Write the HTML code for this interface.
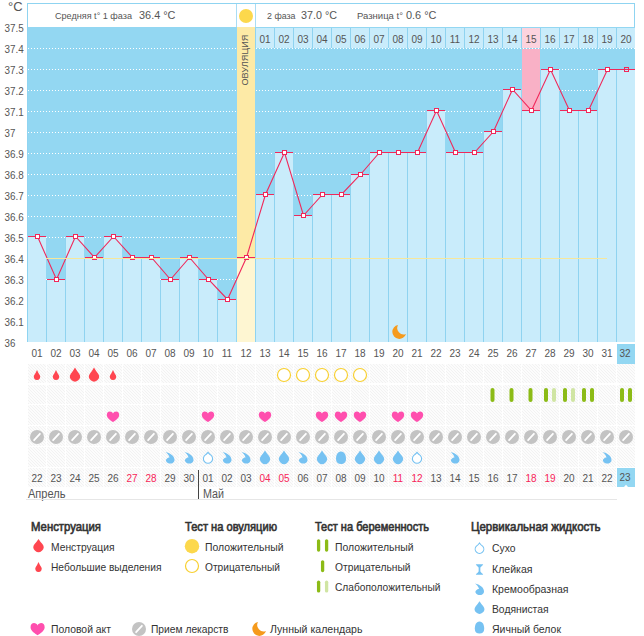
<!DOCTYPE html>
<html><head><meta charset="utf-8"><style>
html,body{margin:0;padding:0;background:#fff;width:644px;height:636px;overflow:hidden}
text{font-family:"Liberation Sans",sans-serif}
</style></head><body>
<svg width="644" height="636" viewBox="0 0 644 636" style="display:block">
<rect x="0" y="0" width="644" height="636" fill="#ffffff"/>
<defs><pattern id="cp" x="0" y="0" width="3" height="3" patternUnits="userSpaceOnUse"><rect x="0" y="0" width="3" height="3" fill="#fcfcfc"/><rect x="0" y="0" width="1" height="1" fill="#f2f2f2"/><rect x="1" y="1" width="1" height="1" fill="#f2f2f2"/><rect x="2" y="2" width="1" height="1" fill="#f2f2f2"/></pattern></defs>
<g shape-rendering="crispEdges">
<rect x="27" y="3" width="608" height="24" fill="#fff"/>
<rect x="27" y="3" width="608" height="1" fill="#8fd4f1"/>
<rect x="27" y="3" width="1" height="24" fill="#8fd4f1"/>
<rect x="634" y="3" width="1" height="24" fill="#8fd4f1"/>
<rect x="236" y="4" width="1" height="23" fill="#a9ddf5"/>
<rect x="255" y="4" width="1" height="23" fill="#a9ddf5"/>
<rect x="27" y="27" width="608" height="315" fill="#93d7f2"/>
<line x1="28" y1="48.5" x2="635" y2="48.5" stroke="#ffffff" stroke-width="1" stroke-dasharray="1 2"/>
<line x1="28" y1="69.5" x2="635" y2="69.5" stroke="#ffffff" stroke-width="1" stroke-dasharray="1 2"/>
<line x1="28" y1="90.5" x2="635" y2="90.5" stroke="#ffffff" stroke-width="1" stroke-dasharray="1 2"/>
<line x1="28" y1="111.5" x2="635" y2="111.5" stroke="#ffffff" stroke-width="1" stroke-dasharray="1 2"/>
<line x1="28" y1="132.5" x2="635" y2="132.5" stroke="#ffffff" stroke-width="1" stroke-dasharray="1 2"/>
<line x1="28" y1="153.5" x2="635" y2="153.5" stroke="#ffffff" stroke-width="1" stroke-dasharray="1 2"/>
<line x1="28" y1="174.5" x2="635" y2="174.5" stroke="#ffffff" stroke-width="1" stroke-dasharray="1 2"/>
<line x1="28" y1="195.5" x2="635" y2="195.5" stroke="#ffffff" stroke-width="1" stroke-dasharray="1 2"/>
<line x1="28" y1="216.5" x2="635" y2="216.5" stroke="#ffffff" stroke-width="1" stroke-dasharray="1 2"/>
<line x1="28" y1="237.5" x2="635" y2="237.5" stroke="#ffffff" stroke-width="1" stroke-dasharray="1 2"/>
<line x1="28" y1="258.5" x2="635" y2="258.5" stroke="#ffffff" stroke-width="1" stroke-dasharray="1 2"/>
<line x1="28" y1="279.5" x2="635" y2="279.5" stroke="#ffffff" stroke-width="1" stroke-dasharray="1 2"/>
<line x1="28" y1="300.5" x2="635" y2="300.5" stroke="#ffffff" stroke-width="1" stroke-dasharray="1 2"/>
<line x1="28" y1="321.5" x2="635" y2="321.5" stroke="#ffffff" stroke-width="1" stroke-dasharray="1 2"/>
<rect x="27" y="237" width="19" height="105" fill="#c9ecfb"/>
<rect x="27" y="237" width="1" height="105" fill="#8fd3f0"/>
<rect x="46" y="280" width="19" height="62" fill="#c9ecfb"/>
<rect x="46" y="280" width="1" height="62" fill="#8fd3f0"/>
<rect x="65" y="237" width="19" height="105" fill="#c9ecfb"/>
<rect x="65" y="237" width="1" height="105" fill="#8fd3f0"/>
<rect x="84" y="258" width="19" height="84" fill="#c9ecfb"/>
<rect x="84" y="258" width="1" height="84" fill="#8fd3f0"/>
<rect x="103" y="237" width="19" height="105" fill="#c9ecfb"/>
<rect x="103" y="237" width="1" height="105" fill="#8fd3f0"/>
<rect x="122" y="258" width="19" height="84" fill="#c9ecfb"/>
<rect x="122" y="258" width="1" height="84" fill="#8fd3f0"/>
<rect x="141" y="258" width="19" height="84" fill="#c9ecfb"/>
<rect x="141" y="258" width="1" height="84" fill="#8fd3f0"/>
<rect x="160" y="280" width="19" height="62" fill="#c9ecfb"/>
<rect x="160" y="280" width="1" height="62" fill="#8fd3f0"/>
<rect x="179" y="258" width="19" height="84" fill="#c9ecfb"/>
<rect x="179" y="258" width="1" height="84" fill="#8fd3f0"/>
<rect x="198" y="280" width="19" height="62" fill="#c9ecfb"/>
<rect x="198" y="280" width="1" height="62" fill="#8fd3f0"/>
<rect x="217" y="300" width="19" height="42" fill="#c9ecfb"/>
<rect x="217" y="300" width="1" height="42" fill="#8fd3f0"/>
<rect x="237" y="27" width="18" height="231" fill="#fdeaa6"/>
<rect x="237" y="258" width="18" height="84" fill="#fef6d2"/>
<rect x="255" y="195" width="19" height="147" fill="#c9ecfb"/>
<rect x="255" y="195" width="1" height="147" fill="#8fd3f0"/>
<rect x="274" y="153" width="19" height="189" fill="#c9ecfb"/>
<rect x="274" y="153" width="1" height="189" fill="#8fd3f0"/>
<rect x="293" y="216" width="19" height="126" fill="#c9ecfb"/>
<rect x="293" y="216" width="1" height="126" fill="#8fd3f0"/>
<rect x="312" y="195" width="19" height="147" fill="#c9ecfb"/>
<rect x="312" y="195" width="1" height="147" fill="#8fd3f0"/>
<rect x="331" y="195" width="19" height="147" fill="#c9ecfb"/>
<rect x="331" y="195" width="1" height="147" fill="#8fd3f0"/>
<rect x="350" y="175" width="19" height="167" fill="#c9ecfb"/>
<rect x="350" y="175" width="1" height="167" fill="#8fd3f0"/>
<rect x="369" y="153" width="19" height="189" fill="#c9ecfb"/>
<rect x="369" y="153" width="1" height="189" fill="#8fd3f0"/>
<rect x="388" y="153" width="19" height="189" fill="#c9ecfb"/>
<rect x="388" y="153" width="1" height="189" fill="#8fd3f0"/>
<rect x="407" y="153" width="19" height="189" fill="#c9ecfb"/>
<rect x="407" y="153" width="1" height="189" fill="#8fd3f0"/>
<rect x="426" y="111" width="19" height="231" fill="#c9ecfb"/>
<rect x="426" y="111" width="1" height="231" fill="#8fd3f0"/>
<rect x="445" y="153" width="19" height="189" fill="#c9ecfb"/>
<rect x="445" y="153" width="1" height="189" fill="#8fd3f0"/>
<rect x="464" y="153" width="19" height="189" fill="#c9ecfb"/>
<rect x="464" y="153" width="1" height="189" fill="#8fd3f0"/>
<rect x="483" y="132" width="19" height="210" fill="#c9ecfb"/>
<rect x="483" y="132" width="1" height="210" fill="#8fd3f0"/>
<rect x="502" y="90" width="19" height="252" fill="#c9ecfb"/>
<rect x="502" y="90" width="1" height="252" fill="#8fd3f0"/>
<rect x="522" y="49" width="18" height="62" fill="#f9b1c6"/>
<rect x="521" y="111" width="19" height="231" fill="#c9ecfb"/>
<rect x="521" y="111" width="1" height="231" fill="#8fd3f0"/>
<rect x="540" y="70" width="19" height="272" fill="#c9ecfb"/>
<rect x="540" y="70" width="1" height="272" fill="#8fd3f0"/>
<rect x="559" y="111" width="19" height="231" fill="#c9ecfb"/>
<rect x="559" y="111" width="1" height="231" fill="#8fd3f0"/>
<rect x="578" y="111" width="19" height="231" fill="#c9ecfb"/>
<rect x="578" y="111" width="1" height="231" fill="#8fd3f0"/>
<rect x="597" y="70" width="19" height="272" fill="#c9ecfb"/>
<rect x="597" y="70" width="1" height="272" fill="#8fd3f0"/>
<rect x="616" y="70" width="19" height="272" fill="#c9ecfb"/>
<rect x="616" y="70" width="1" height="272" fill="#8fd3f0"/>
<rect x="255" y="28" width="19" height="20" fill="#c9ecfb"/>
<rect x="255" y="28" width="1" height="20" fill="#8fd3f0"/>
<rect x="274" y="28" width="19" height="20" fill="#c9ecfb"/>
<rect x="274" y="28" width="1" height="20" fill="#8fd3f0"/>
<rect x="293" y="28" width="19" height="20" fill="#c9ecfb"/>
<rect x="293" y="28" width="1" height="20" fill="#8fd3f0"/>
<rect x="312" y="28" width="19" height="20" fill="#c9ecfb"/>
<rect x="312" y="28" width="1" height="20" fill="#8fd3f0"/>
<rect x="331" y="28" width="19" height="20" fill="#c9ecfb"/>
<rect x="331" y="28" width="1" height="20" fill="#8fd3f0"/>
<rect x="350" y="28" width="19" height="20" fill="#c9ecfb"/>
<rect x="350" y="28" width="1" height="20" fill="#8fd3f0"/>
<rect x="369" y="28" width="19" height="20" fill="#c9ecfb"/>
<rect x="369" y="28" width="1" height="20" fill="#8fd3f0"/>
<rect x="388" y="28" width="19" height="20" fill="#c9ecfb"/>
<rect x="388" y="28" width="1" height="20" fill="#8fd3f0"/>
<rect x="407" y="28" width="19" height="20" fill="#c9ecfb"/>
<rect x="407" y="28" width="1" height="20" fill="#8fd3f0"/>
<rect x="426" y="28" width="19" height="20" fill="#c9ecfb"/>
<rect x="426" y="28" width="1" height="20" fill="#8fd3f0"/>
<rect x="445" y="28" width="19" height="20" fill="#c9ecfb"/>
<rect x="445" y="28" width="1" height="20" fill="#8fd3f0"/>
<rect x="464" y="28" width="19" height="20" fill="#c9ecfb"/>
<rect x="464" y="28" width="1" height="20" fill="#8fd3f0"/>
<rect x="483" y="28" width="19" height="20" fill="#c9ecfb"/>
<rect x="483" y="28" width="1" height="20" fill="#8fd3f0"/>
<rect x="502" y="28" width="19" height="20" fill="#c9ecfb"/>
<rect x="502" y="28" width="1" height="20" fill="#8fd3f0"/>
<rect x="521" y="28" width="19" height="20" fill="#fcd3de"/>
<rect x="521" y="28" width="1" height="20" fill="#8fd3f0"/>
<rect x="540" y="28" width="19" height="20" fill="#c9ecfb"/>
<rect x="540" y="28" width="1" height="20" fill="#8fd3f0"/>
<rect x="559" y="28" width="19" height="20" fill="#c9ecfb"/>
<rect x="559" y="28" width="1" height="20" fill="#8fd3f0"/>
<rect x="578" y="28" width="19" height="20" fill="#c9ecfb"/>
<rect x="578" y="28" width="1" height="20" fill="#8fd3f0"/>
<rect x="597" y="28" width="19" height="20" fill="#c9ecfb"/>
<rect x="597" y="28" width="1" height="20" fill="#8fd3f0"/>
<rect x="616" y="28" width="19" height="20" fill="#c9ecfb"/>
<rect x="616" y="28" width="1" height="20" fill="#8fd3f0"/>
<line x1="256" y1="48.5" x2="635" y2="48.5" stroke="#ffffff" stroke-width="1" stroke-dasharray="1 2"/>
<rect x="27" y="27" width="1" height="315" fill="#8fd4f1"/>
<rect x="28" y="236" width="18" height="1" fill="#f0285a"/>
<rect x="47" y="279" width="18" height="1" fill="#f0285a"/>
<rect x="66" y="236" width="18" height="1" fill="#f0285a"/>
<rect x="85" y="257" width="18" height="1" fill="#f0285a"/>
<rect x="104" y="236" width="18" height="1" fill="#f0285a"/>
<rect x="123" y="257" width="18" height="1" fill="#f0285a"/>
<rect x="142" y="257" width="18" height="1" fill="#f0285a"/>
<rect x="161" y="279" width="18" height="1" fill="#f0285a"/>
<rect x="180" y="257" width="18" height="1" fill="#f0285a"/>
<rect x="199" y="279" width="18" height="1" fill="#f0285a"/>
<rect x="218" y="299" width="18" height="1" fill="#f0285a"/>
<rect x="237" y="257" width="18" height="1" fill="#f0285a"/>
<rect x="256" y="194" width="18" height="1" fill="#f0285a"/>
<rect x="275" y="152" width="18" height="1" fill="#f0285a"/>
<rect x="294" y="215" width="18" height="1" fill="#f0285a"/>
<rect x="313" y="194" width="18" height="1" fill="#f0285a"/>
<rect x="332" y="194" width="18" height="1" fill="#f0285a"/>
<rect x="351" y="174" width="18" height="1" fill="#f0285a"/>
<rect x="370" y="152" width="18" height="1" fill="#f0285a"/>
<rect x="389" y="152" width="18" height="1" fill="#f0285a"/>
<rect x="408" y="152" width="18" height="1" fill="#f0285a"/>
<rect x="427" y="110" width="18" height="1" fill="#f0285a"/>
<rect x="446" y="152" width="18" height="1" fill="#f0285a"/>
<rect x="465" y="152" width="18" height="1" fill="#f0285a"/>
<rect x="484" y="131" width="18" height="1" fill="#f0285a"/>
<rect x="503" y="89" width="18" height="1" fill="#f0285a"/>
<rect x="522" y="110" width="18" height="1" fill="#f0285a"/>
<rect x="541" y="69" width="18" height="1" fill="#f0285a"/>
<rect x="560" y="110" width="18" height="1" fill="#f0285a"/>
<rect x="579" y="110" width="18" height="1" fill="#f0285a"/>
<rect x="598" y="69" width="18" height="1" fill="#f0285a"/>
<rect x="617" y="69" width="18" height="1" fill="#f0285a"/>
</g>
<polyline points="37.5,236.5 56.5,279.5 75.5,236.5 94.5,257.5 113.5,236.5 132.5,257.5 151.5,257.5 170.5,279.5 189.5,257.5 208.5,279.5 227.5,299.5 246.5,257.5 265.5,194.5 284.5,152.5 303.5,215.5 322.5,194.5 341.5,194.5 360.5,174.5 379.5,152.5 398.5,152.5 417.5,152.5 436.5,110.5 455.5,152.5 474.5,152.5 493.5,131.5 512.5,89.5 531.5,110.5 550.5,69.5 569.5,110.5 588.5,110.5 607.5,69.5 626.5,69.5" fill="none" stroke="#f0285a" stroke-width="1.1"/>
<g shape-rendering="crispEdges">
<rect x="35.5" y="234.5" width="4" height="4" fill="#fff" stroke="#f0285a" stroke-width="1"/>
<rect x="54.5" y="277.5" width="4" height="4" fill="#fff" stroke="#f0285a" stroke-width="1"/>
<rect x="73.5" y="234.5" width="4" height="4" fill="#fff" stroke="#f0285a" stroke-width="1"/>
<rect x="92.5" y="255.5" width="4" height="4" fill="#fff" stroke="#f0285a" stroke-width="1"/>
<rect x="111.5" y="234.5" width="4" height="4" fill="#fff" stroke="#f0285a" stroke-width="1"/>
<rect x="130.5" y="255.5" width="4" height="4" fill="#fff" stroke="#f0285a" stroke-width="1"/>
<rect x="149.5" y="255.5" width="4" height="4" fill="#fff" stroke="#f0285a" stroke-width="1"/>
<rect x="168.5" y="277.5" width="4" height="4" fill="#fff" stroke="#f0285a" stroke-width="1"/>
<rect x="187.5" y="255.5" width="4" height="4" fill="#fff" stroke="#f0285a" stroke-width="1"/>
<rect x="206.5" y="277.5" width="4" height="4" fill="#fff" stroke="#f0285a" stroke-width="1"/>
<rect x="225.5" y="297.5" width="4" height="4" fill="#fff" stroke="#f0285a" stroke-width="1"/>
<rect x="244.5" y="255.5" width="4" height="4" fill="#fff" stroke="#f0285a" stroke-width="1"/>
<rect x="263.5" y="192.5" width="4" height="4" fill="#fff" stroke="#f0285a" stroke-width="1"/>
<rect x="282.5" y="150.5" width="4" height="4" fill="#fff" stroke="#f0285a" stroke-width="1"/>
<rect x="301.5" y="213.5" width="4" height="4" fill="#fff" stroke="#f0285a" stroke-width="1"/>
<rect x="320.5" y="192.5" width="4" height="4" fill="#fff" stroke="#f0285a" stroke-width="1"/>
<rect x="339.5" y="192.5" width="4" height="4" fill="#fff" stroke="#f0285a" stroke-width="1"/>
<rect x="358.5" y="172.5" width="4" height="4" fill="#fff" stroke="#f0285a" stroke-width="1"/>
<rect x="377.5" y="150.5" width="4" height="4" fill="#fff" stroke="#f0285a" stroke-width="1"/>
<rect x="396.5" y="150.5" width="4" height="4" fill="#fff" stroke="#f0285a" stroke-width="1"/>
<rect x="415.5" y="150.5" width="4" height="4" fill="#fff" stroke="#f0285a" stroke-width="1"/>
<rect x="434.5" y="108.5" width="4" height="4" fill="#fff" stroke="#f0285a" stroke-width="1"/>
<rect x="453.5" y="150.5" width="4" height="4" fill="#fff" stroke="#f0285a" stroke-width="1"/>
<rect x="472.5" y="150.5" width="4" height="4" fill="#fff" stroke="#f0285a" stroke-width="1"/>
<rect x="491.5" y="129.5" width="4" height="4" fill="#fff" stroke="#f0285a" stroke-width="1"/>
<rect x="510.5" y="87.5" width="4" height="4" fill="#fff" stroke="#f0285a" stroke-width="1"/>
<rect x="529.5" y="108.5" width="4" height="4" fill="#fff" stroke="#f0285a" stroke-width="1"/>
<rect x="548.5" y="67.5" width="4" height="4" fill="#fff" stroke="#f0285a" stroke-width="1"/>
<rect x="567.5" y="108.5" width="4" height="4" fill="#fff" stroke="#f0285a" stroke-width="1"/>
<rect x="586.5" y="108.5" width="4" height="4" fill="#fff" stroke="#f0285a" stroke-width="1"/>
<rect x="605.5" y="67.5" width="4" height="4" fill="#fff" stroke="#f0285a" stroke-width="1"/>
<rect x="624.5" y="67.5" width="4" height="4" fill="none" stroke="#f0285a" stroke-width="1"/>
<rect x="617" y="69" width="18" height="1" fill="#f0285a"/>
</g>
<g shape-rendering="crispEdges">
<rect x="46" y="258" width="561" height="1" fill="#f7e79a"/>
</g>
<path d="M398,325 A7,7 0 1 0 406,334 A6.44,6.44 0 0 1 398,325 Z" fill="#f59a1c"/>
<text x="8" y="11" font-family="Liberation Sans, sans-serif" font-size="13" fill="#555555">°C</text>
<text x="4.6" y="32" font-family="Liberation Sans, sans-serif" font-size="10" fill="#555555" textLength="19.2" lengthAdjust="spacingAndGlyphs">37.5</text>
<text x="4.6" y="53" font-family="Liberation Sans, sans-serif" font-size="10" fill="#555555" textLength="19.2" lengthAdjust="spacingAndGlyphs">37.4</text>
<text x="4.6" y="74" font-family="Liberation Sans, sans-serif" font-size="10" fill="#555555" textLength="19.2" lengthAdjust="spacingAndGlyphs">37.3</text>
<text x="4.6" y="95" font-family="Liberation Sans, sans-serif" font-size="10" fill="#555555" textLength="19.2" lengthAdjust="spacingAndGlyphs">37.2</text>
<text x="4.6" y="116" font-family="Liberation Sans, sans-serif" font-size="10" fill="#555555" textLength="19.2" lengthAdjust="spacingAndGlyphs">37.1</text>
<text x="4.6" y="137" font-family="Liberation Sans, sans-serif" font-size="10" fill="#555555" textLength="10.8" lengthAdjust="spacingAndGlyphs">37</text>
<text x="4.6" y="158" font-family="Liberation Sans, sans-serif" font-size="10" fill="#555555" textLength="19.2" lengthAdjust="spacingAndGlyphs">36.9</text>
<text x="4.6" y="179" font-family="Liberation Sans, sans-serif" font-size="10" fill="#555555" textLength="19.2" lengthAdjust="spacingAndGlyphs">36.8</text>
<text x="4.6" y="200" font-family="Liberation Sans, sans-serif" font-size="10" fill="#555555" textLength="19.2" lengthAdjust="spacingAndGlyphs">36.7</text>
<text x="4.6" y="221" font-family="Liberation Sans, sans-serif" font-size="10" fill="#555555" textLength="19.2" lengthAdjust="spacingAndGlyphs">36.6</text>
<text x="4.6" y="242" font-family="Liberation Sans, sans-serif" font-size="10" fill="#555555" textLength="19.2" lengthAdjust="spacingAndGlyphs">36.5</text>
<text x="4.6" y="263" font-family="Liberation Sans, sans-serif" font-size="10" fill="#555555" textLength="19.2" lengthAdjust="spacingAndGlyphs">36.4</text>
<text x="4.6" y="284" font-family="Liberation Sans, sans-serif" font-size="10" fill="#555555" textLength="19.2" lengthAdjust="spacingAndGlyphs">36.3</text>
<text x="4.6" y="305" font-family="Liberation Sans, sans-serif" font-size="10" fill="#555555" textLength="19.2" lengthAdjust="spacingAndGlyphs">36.2</text>
<text x="4.6" y="326" font-family="Liberation Sans, sans-serif" font-size="10" fill="#555555" textLength="19.2" lengthAdjust="spacingAndGlyphs">36.1</text>
<text x="4.6" y="347" font-family="Liberation Sans, sans-serif" font-size="10" fill="#555555" textLength="10.8" lengthAdjust="spacingAndGlyphs">36</text>
<text x="55" y="19" font-family="Liberation Sans, sans-serif" font-size="9.4" fill="#555555" textLength="77" lengthAdjust="spacingAndGlyphs">Средняя t° 1 фаза</text>
<text x="139" y="19" font-family="Liberation Sans, sans-serif" font-size="11" fill="#555555" textLength="36.5" lengthAdjust="spacingAndGlyphs">36.4 °C</text>
<text x="267" y="19" font-family="Liberation Sans, sans-serif" font-size="9.4" fill="#555555" textLength="28.5" lengthAdjust="spacingAndGlyphs">2 фаза</text>
<text x="301" y="19" font-family="Liberation Sans, sans-serif" font-size="11" fill="#555555" textLength="36" lengthAdjust="spacingAndGlyphs">37.0 °C</text>
<text x="357" y="19" font-family="Liberation Sans, sans-serif" font-size="9.4" fill="#555555" textLength="46" lengthAdjust="spacingAndGlyphs">Разница t°</text>
<text x="406" y="19" font-family="Liberation Sans, sans-serif" font-size="11" fill="#555555" textLength="30.5" lengthAdjust="spacingAndGlyphs">0.6 °C</text>
<circle cx="246" cy="16" r="7" fill="#fcd84c"/>
<text x="0" y="0" font-family="Liberation Sans, sans-serif" font-size="9" fill="#555555" textLength="51" lengthAdjust="spacingAndGlyphs" transform="translate(248.2,85.6) rotate(-90)">ОВУЛЯЦИЯ</text>
<text x="265" y="43" text-anchor="middle" font-family="Liberation Sans, sans-serif" font-size="10" fill="#555555">01</text>
<text x="284" y="43" text-anchor="middle" font-family="Liberation Sans, sans-serif" font-size="10" fill="#555555">02</text>
<text x="303" y="43" text-anchor="middle" font-family="Liberation Sans, sans-serif" font-size="10" fill="#555555">03</text>
<text x="322" y="43" text-anchor="middle" font-family="Liberation Sans, sans-serif" font-size="10" fill="#555555">04</text>
<text x="341" y="43" text-anchor="middle" font-family="Liberation Sans, sans-serif" font-size="10" fill="#555555">05</text>
<text x="360" y="43" text-anchor="middle" font-family="Liberation Sans, sans-serif" font-size="10" fill="#555555">06</text>
<text x="379" y="43" text-anchor="middle" font-family="Liberation Sans, sans-serif" font-size="10" fill="#555555">07</text>
<text x="398" y="43" text-anchor="middle" font-family="Liberation Sans, sans-serif" font-size="10" fill="#555555">08</text>
<text x="417" y="43" text-anchor="middle" font-family="Liberation Sans, sans-serif" font-size="10" fill="#555555">09</text>
<text x="436" y="43" text-anchor="middle" font-family="Liberation Sans, sans-serif" font-size="10" fill="#555555">10</text>
<text x="455" y="43" text-anchor="middle" font-family="Liberation Sans, sans-serif" font-size="10" fill="#555555">11</text>
<text x="474" y="43" text-anchor="middle" font-family="Liberation Sans, sans-serif" font-size="10" fill="#555555">12</text>
<text x="493" y="43" text-anchor="middle" font-family="Liberation Sans, sans-serif" font-size="10" fill="#555555">13</text>
<text x="512" y="43" text-anchor="middle" font-family="Liberation Sans, sans-serif" font-size="10" fill="#555555">14</text>
<text x="531" y="43" text-anchor="middle" font-family="Liberation Sans, sans-serif" font-size="10" fill="#555555">15</text>
<text x="550" y="43" text-anchor="middle" font-family="Liberation Sans, sans-serif" font-size="10" fill="#555555">16</text>
<text x="569" y="43" text-anchor="middle" font-family="Liberation Sans, sans-serif" font-size="10" fill="#555555">17</text>
<text x="588" y="43" text-anchor="middle" font-family="Liberation Sans, sans-serif" font-size="10" fill="#555555">18</text>
<text x="607" y="43" text-anchor="middle" font-family="Liberation Sans, sans-serif" font-size="10" fill="#555555">19</text>
<text x="626" y="43" text-anchor="middle" font-family="Liberation Sans, sans-serif" font-size="10" fill="#555555">20</text>
<rect x="617" y="344" width="18" height="20" fill="#93d7f2"/>
<text x="37" y="357" text-anchor="middle" font-family="Liberation Sans, sans-serif" font-size="10" fill="#555555">01</text>
<text x="56" y="357" text-anchor="middle" font-family="Liberation Sans, sans-serif" font-size="10" fill="#555555">02</text>
<text x="75" y="357" text-anchor="middle" font-family="Liberation Sans, sans-serif" font-size="10" fill="#555555">03</text>
<text x="94" y="357" text-anchor="middle" font-family="Liberation Sans, sans-serif" font-size="10" fill="#555555">04</text>
<text x="113" y="357" text-anchor="middle" font-family="Liberation Sans, sans-serif" font-size="10" fill="#555555">05</text>
<text x="132" y="357" text-anchor="middle" font-family="Liberation Sans, sans-serif" font-size="10" fill="#555555">06</text>
<text x="151" y="357" text-anchor="middle" font-family="Liberation Sans, sans-serif" font-size="10" fill="#555555">07</text>
<text x="170" y="357" text-anchor="middle" font-family="Liberation Sans, sans-serif" font-size="10" fill="#555555">08</text>
<text x="189" y="357" text-anchor="middle" font-family="Liberation Sans, sans-serif" font-size="10" fill="#555555">09</text>
<text x="208" y="357" text-anchor="middle" font-family="Liberation Sans, sans-serif" font-size="10" fill="#555555">10</text>
<text x="227" y="357" text-anchor="middle" font-family="Liberation Sans, sans-serif" font-size="10" fill="#555555">11</text>
<text x="246" y="357" text-anchor="middle" font-family="Liberation Sans, sans-serif" font-size="10" fill="#555555">12</text>
<text x="265" y="357" text-anchor="middle" font-family="Liberation Sans, sans-serif" font-size="10" fill="#555555">13</text>
<text x="284" y="357" text-anchor="middle" font-family="Liberation Sans, sans-serif" font-size="10" fill="#555555">14</text>
<text x="303" y="357" text-anchor="middle" font-family="Liberation Sans, sans-serif" font-size="10" fill="#555555">15</text>
<text x="322" y="357" text-anchor="middle" font-family="Liberation Sans, sans-serif" font-size="10" fill="#555555">16</text>
<text x="341" y="357" text-anchor="middle" font-family="Liberation Sans, sans-serif" font-size="10" fill="#555555">17</text>
<text x="360" y="357" text-anchor="middle" font-family="Liberation Sans, sans-serif" font-size="10" fill="#555555">18</text>
<text x="379" y="357" text-anchor="middle" font-family="Liberation Sans, sans-serif" font-size="10" fill="#555555">19</text>
<text x="398" y="357" text-anchor="middle" font-family="Liberation Sans, sans-serif" font-size="10" fill="#555555">20</text>
<text x="417" y="357" text-anchor="middle" font-family="Liberation Sans, sans-serif" font-size="10" fill="#555555">21</text>
<text x="436" y="357" text-anchor="middle" font-family="Liberation Sans, sans-serif" font-size="10" fill="#555555">22</text>
<text x="455" y="357" text-anchor="middle" font-family="Liberation Sans, sans-serif" font-size="10" fill="#555555">23</text>
<text x="474" y="357" text-anchor="middle" font-family="Liberation Sans, sans-serif" font-size="10" fill="#555555">24</text>
<text x="493" y="357" text-anchor="middle" font-family="Liberation Sans, sans-serif" font-size="10" fill="#555555">25</text>
<text x="512" y="357" text-anchor="middle" font-family="Liberation Sans, sans-serif" font-size="10" fill="#555555">26</text>
<text x="531" y="357" text-anchor="middle" font-family="Liberation Sans, sans-serif" font-size="10" fill="#555555">27</text>
<text x="550" y="357" text-anchor="middle" font-family="Liberation Sans, sans-serif" font-size="10" fill="#555555">28</text>
<text x="569" y="357" text-anchor="middle" font-family="Liberation Sans, sans-serif" font-size="10" fill="#555555">29</text>
<text x="588" y="357" text-anchor="middle" font-family="Liberation Sans, sans-serif" font-size="10" fill="#555555">30</text>
<text x="607" y="357" text-anchor="middle" font-family="Liberation Sans, sans-serif" font-size="10" fill="#555555">31</text>
<text x="625" y="357" text-anchor="middle" font-family="Liberation Sans, sans-serif" font-size="10" fill="#555555">32</text>
<g shape-rendering="crispEdges">
<rect x="28" y="364" width="18" height="19" fill="url(#cp)"/>
<rect x="47" y="364" width="18" height="19" fill="url(#cp)"/>
<rect x="66" y="364" width="18" height="19" fill="url(#cp)"/>
<rect x="85" y="364" width="18" height="19" fill="url(#cp)"/>
<rect x="104" y="364" width="18" height="19" fill="url(#cp)"/>
<rect x="123" y="364" width="18" height="19" fill="url(#cp)"/>
<rect x="142" y="364" width="18" height="19" fill="url(#cp)"/>
<rect x="161" y="364" width="18" height="19" fill="url(#cp)"/>
<rect x="180" y="364" width="18" height="19" fill="url(#cp)"/>
<rect x="199" y="364" width="18" height="19" fill="url(#cp)"/>
<rect x="218" y="364" width="18" height="19" fill="url(#cp)"/>
<rect x="237" y="364" width="18" height="19" fill="url(#cp)"/>
<rect x="256" y="364" width="18" height="19" fill="url(#cp)"/>
<rect x="275" y="364" width="18" height="19" fill="url(#cp)"/>
<rect x="294" y="364" width="18" height="19" fill="url(#cp)"/>
<rect x="313" y="364" width="18" height="19" fill="url(#cp)"/>
<rect x="332" y="364" width="18" height="19" fill="url(#cp)"/>
<rect x="351" y="364" width="18" height="19" fill="url(#cp)"/>
<rect x="370" y="364" width="18" height="19" fill="url(#cp)"/>
<rect x="389" y="364" width="18" height="19" fill="url(#cp)"/>
<rect x="408" y="364" width="18" height="19" fill="url(#cp)"/>
<rect x="427" y="364" width="18" height="19" fill="url(#cp)"/>
<rect x="446" y="364" width="18" height="19" fill="url(#cp)"/>
<rect x="465" y="364" width="18" height="19" fill="url(#cp)"/>
<rect x="484" y="364" width="18" height="19" fill="url(#cp)"/>
<rect x="503" y="364" width="18" height="19" fill="url(#cp)"/>
<rect x="522" y="364" width="18" height="19" fill="url(#cp)"/>
<rect x="541" y="364" width="18" height="19" fill="url(#cp)"/>
<rect x="560" y="364" width="18" height="19" fill="url(#cp)"/>
<rect x="579" y="364" width="18" height="19" fill="url(#cp)"/>
<rect x="598" y="364" width="18" height="19" fill="url(#cp)"/>
<rect x="617" y="364" width="18" height="19" fill="url(#cp)"/>
<rect x="28" y="385" width="18" height="19" fill="url(#cp)"/>
<rect x="47" y="385" width="18" height="19" fill="url(#cp)"/>
<rect x="66" y="385" width="18" height="19" fill="url(#cp)"/>
<rect x="85" y="385" width="18" height="19" fill="url(#cp)"/>
<rect x="104" y="385" width="18" height="19" fill="url(#cp)"/>
<rect x="123" y="385" width="18" height="19" fill="url(#cp)"/>
<rect x="142" y="385" width="18" height="19" fill="url(#cp)"/>
<rect x="161" y="385" width="18" height="19" fill="url(#cp)"/>
<rect x="180" y="385" width="18" height="19" fill="url(#cp)"/>
<rect x="199" y="385" width="18" height="19" fill="url(#cp)"/>
<rect x="218" y="385" width="18" height="19" fill="url(#cp)"/>
<rect x="237" y="385" width="18" height="19" fill="url(#cp)"/>
<rect x="256" y="385" width="18" height="19" fill="url(#cp)"/>
<rect x="275" y="385" width="18" height="19" fill="url(#cp)"/>
<rect x="294" y="385" width="18" height="19" fill="url(#cp)"/>
<rect x="313" y="385" width="18" height="19" fill="url(#cp)"/>
<rect x="332" y="385" width="18" height="19" fill="url(#cp)"/>
<rect x="351" y="385" width="18" height="19" fill="url(#cp)"/>
<rect x="370" y="385" width="18" height="19" fill="url(#cp)"/>
<rect x="389" y="385" width="18" height="19" fill="url(#cp)"/>
<rect x="408" y="385" width="18" height="19" fill="url(#cp)"/>
<rect x="427" y="385" width="18" height="19" fill="url(#cp)"/>
<rect x="446" y="385" width="18" height="19" fill="url(#cp)"/>
<rect x="465" y="385" width="18" height="19" fill="url(#cp)"/>
<rect x="484" y="385" width="18" height="19" fill="url(#cp)"/>
<rect x="503" y="385" width="18" height="19" fill="url(#cp)"/>
<rect x="522" y="385" width="18" height="19" fill="url(#cp)"/>
<rect x="541" y="385" width="18" height="19" fill="url(#cp)"/>
<rect x="560" y="385" width="18" height="19" fill="url(#cp)"/>
<rect x="579" y="385" width="18" height="19" fill="url(#cp)"/>
<rect x="598" y="385" width="18" height="19" fill="url(#cp)"/>
<rect x="617" y="385" width="18" height="19" fill="url(#cp)"/>
<rect x="28" y="405" width="18" height="20" fill="url(#cp)"/>
<rect x="47" y="405" width="18" height="20" fill="url(#cp)"/>
<rect x="66" y="405" width="18" height="20" fill="url(#cp)"/>
<rect x="85" y="405" width="18" height="20" fill="url(#cp)"/>
<rect x="104" y="405" width="18" height="20" fill="url(#cp)"/>
<rect x="123" y="405" width="18" height="20" fill="url(#cp)"/>
<rect x="142" y="405" width="18" height="20" fill="url(#cp)"/>
<rect x="161" y="405" width="18" height="20" fill="url(#cp)"/>
<rect x="180" y="405" width="18" height="20" fill="url(#cp)"/>
<rect x="199" y="405" width="18" height="20" fill="url(#cp)"/>
<rect x="218" y="405" width="18" height="20" fill="url(#cp)"/>
<rect x="237" y="405" width="18" height="20" fill="url(#cp)"/>
<rect x="256" y="405" width="18" height="20" fill="url(#cp)"/>
<rect x="275" y="405" width="18" height="20" fill="url(#cp)"/>
<rect x="294" y="405" width="18" height="20" fill="url(#cp)"/>
<rect x="313" y="405" width="18" height="20" fill="url(#cp)"/>
<rect x="332" y="405" width="18" height="20" fill="url(#cp)"/>
<rect x="351" y="405" width="18" height="20" fill="url(#cp)"/>
<rect x="370" y="405" width="18" height="20" fill="url(#cp)"/>
<rect x="389" y="405" width="18" height="20" fill="url(#cp)"/>
<rect x="408" y="405" width="18" height="20" fill="url(#cp)"/>
<rect x="427" y="405" width="18" height="20" fill="url(#cp)"/>
<rect x="446" y="405" width="18" height="20" fill="url(#cp)"/>
<rect x="465" y="405" width="18" height="20" fill="url(#cp)"/>
<rect x="484" y="405" width="18" height="20" fill="url(#cp)"/>
<rect x="503" y="405" width="18" height="20" fill="url(#cp)"/>
<rect x="522" y="405" width="18" height="20" fill="url(#cp)"/>
<rect x="541" y="405" width="18" height="20" fill="url(#cp)"/>
<rect x="560" y="405" width="18" height="20" fill="url(#cp)"/>
<rect x="579" y="405" width="18" height="20" fill="url(#cp)"/>
<rect x="598" y="405" width="18" height="20" fill="url(#cp)"/>
<rect x="617" y="405" width="18" height="20" fill="url(#cp)"/>
<rect x="28" y="426" width="18" height="20" fill="url(#cp)"/>
<rect x="47" y="426" width="18" height="20" fill="url(#cp)"/>
<rect x="66" y="426" width="18" height="20" fill="url(#cp)"/>
<rect x="85" y="426" width="18" height="20" fill="url(#cp)"/>
<rect x="104" y="426" width="18" height="20" fill="url(#cp)"/>
<rect x="123" y="426" width="18" height="20" fill="url(#cp)"/>
<rect x="142" y="426" width="18" height="20" fill="url(#cp)"/>
<rect x="161" y="426" width="18" height="20" fill="url(#cp)"/>
<rect x="180" y="426" width="18" height="20" fill="url(#cp)"/>
<rect x="199" y="426" width="18" height="20" fill="url(#cp)"/>
<rect x="218" y="426" width="18" height="20" fill="url(#cp)"/>
<rect x="237" y="426" width="18" height="20" fill="url(#cp)"/>
<rect x="256" y="426" width="18" height="20" fill="url(#cp)"/>
<rect x="275" y="426" width="18" height="20" fill="url(#cp)"/>
<rect x="294" y="426" width="18" height="20" fill="url(#cp)"/>
<rect x="313" y="426" width="18" height="20" fill="url(#cp)"/>
<rect x="332" y="426" width="18" height="20" fill="url(#cp)"/>
<rect x="351" y="426" width="18" height="20" fill="url(#cp)"/>
<rect x="370" y="426" width="18" height="20" fill="url(#cp)"/>
<rect x="389" y="426" width="18" height="20" fill="url(#cp)"/>
<rect x="408" y="426" width="18" height="20" fill="url(#cp)"/>
<rect x="427" y="426" width="18" height="20" fill="url(#cp)"/>
<rect x="446" y="426" width="18" height="20" fill="url(#cp)"/>
<rect x="465" y="426" width="18" height="20" fill="url(#cp)"/>
<rect x="484" y="426" width="18" height="20" fill="url(#cp)"/>
<rect x="503" y="426" width="18" height="20" fill="url(#cp)"/>
<rect x="522" y="426" width="18" height="20" fill="url(#cp)"/>
<rect x="541" y="426" width="18" height="20" fill="url(#cp)"/>
<rect x="560" y="426" width="18" height="20" fill="url(#cp)"/>
<rect x="579" y="426" width="18" height="20" fill="url(#cp)"/>
<rect x="598" y="426" width="18" height="20" fill="url(#cp)"/>
<rect x="617" y="426" width="18" height="20" fill="url(#cp)"/>
<rect x="28" y="447" width="18" height="20" fill="url(#cp)"/>
<rect x="47" y="447" width="18" height="20" fill="url(#cp)"/>
<rect x="66" y="447" width="18" height="20" fill="url(#cp)"/>
<rect x="85" y="447" width="18" height="20" fill="url(#cp)"/>
<rect x="104" y="447" width="18" height="20" fill="url(#cp)"/>
<rect x="123" y="447" width="18" height="20" fill="url(#cp)"/>
<rect x="142" y="447" width="18" height="20" fill="url(#cp)"/>
<rect x="161" y="447" width="18" height="20" fill="url(#cp)"/>
<rect x="180" y="447" width="18" height="20" fill="url(#cp)"/>
<rect x="199" y="447" width="18" height="20" fill="url(#cp)"/>
<rect x="218" y="447" width="18" height="20" fill="url(#cp)"/>
<rect x="237" y="447" width="18" height="20" fill="url(#cp)"/>
<rect x="256" y="447" width="18" height="20" fill="url(#cp)"/>
<rect x="275" y="447" width="18" height="20" fill="url(#cp)"/>
<rect x="294" y="447" width="18" height="20" fill="url(#cp)"/>
<rect x="313" y="447" width="18" height="20" fill="url(#cp)"/>
<rect x="332" y="447" width="18" height="20" fill="url(#cp)"/>
<rect x="351" y="447" width="18" height="20" fill="url(#cp)"/>
<rect x="370" y="447" width="18" height="20" fill="url(#cp)"/>
<rect x="389" y="447" width="18" height="20" fill="url(#cp)"/>
<rect x="408" y="447" width="18" height="20" fill="url(#cp)"/>
<rect x="427" y="447" width="18" height="20" fill="url(#cp)"/>
<rect x="446" y="447" width="18" height="20" fill="url(#cp)"/>
<rect x="465" y="447" width="18" height="20" fill="url(#cp)"/>
<rect x="484" y="447" width="18" height="20" fill="url(#cp)"/>
<rect x="503" y="447" width="18" height="20" fill="url(#cp)"/>
<rect x="522" y="447" width="18" height="20" fill="url(#cp)"/>
<rect x="541" y="447" width="18" height="20" fill="url(#cp)"/>
<rect x="560" y="447" width="18" height="20" fill="url(#cp)"/>
<rect x="579" y="447" width="18" height="20" fill="url(#cp)"/>
<rect x="598" y="447" width="18" height="20" fill="url(#cp)"/>
<rect x="617" y="447" width="18" height="20" fill="url(#cp)"/>
<rect x="28" y="468" width="18" height="19" fill="url(#cp)"/>
<rect x="47" y="468" width="18" height="19" fill="url(#cp)"/>
<rect x="66" y="468" width="18" height="19" fill="url(#cp)"/>
<rect x="85" y="468" width="18" height="19" fill="url(#cp)"/>
<rect x="104" y="468" width="18" height="19" fill="url(#cp)"/>
<rect x="123" y="468" width="18" height="19" fill="url(#cp)"/>
<rect x="142" y="468" width="18" height="19" fill="url(#cp)"/>
<rect x="161" y="468" width="18" height="19" fill="url(#cp)"/>
<rect x="180" y="468" width="18" height="19" fill="url(#cp)"/>
<rect x="199" y="468" width="18" height="19" fill="url(#cp)"/>
<rect x="218" y="468" width="18" height="19" fill="url(#cp)"/>
<rect x="237" y="468" width="18" height="19" fill="url(#cp)"/>
<rect x="256" y="468" width="18" height="19" fill="url(#cp)"/>
<rect x="275" y="468" width="18" height="19" fill="url(#cp)"/>
<rect x="294" y="468" width="18" height="19" fill="url(#cp)"/>
<rect x="313" y="468" width="18" height="19" fill="url(#cp)"/>
<rect x="332" y="468" width="18" height="19" fill="url(#cp)"/>
<rect x="351" y="468" width="18" height="19" fill="url(#cp)"/>
<rect x="370" y="468" width="18" height="19" fill="url(#cp)"/>
<rect x="389" y="468" width="18" height="19" fill="url(#cp)"/>
<rect x="408" y="468" width="18" height="19" fill="url(#cp)"/>
<rect x="427" y="468" width="18" height="19" fill="url(#cp)"/>
<rect x="446" y="468" width="18" height="19" fill="url(#cp)"/>
<rect x="465" y="468" width="18" height="19" fill="url(#cp)"/>
<rect x="484" y="468" width="18" height="19" fill="url(#cp)"/>
<rect x="503" y="468" width="18" height="19" fill="url(#cp)"/>
<rect x="522" y="468" width="18" height="19" fill="url(#cp)"/>
<rect x="541" y="468" width="18" height="19" fill="url(#cp)"/>
<rect x="560" y="468" width="18" height="19" fill="url(#cp)"/>
<rect x="579" y="468" width="18" height="19" fill="url(#cp)"/>
<rect x="598" y="468" width="18" height="19" fill="url(#cp)"/>
<rect x="617" y="468" width="18" height="19" fill="url(#cp)"/>
</g>
<path d="M37.00,370.00 Q38.17,372.84 39.85,375.19 A3.25,3.25 0 1 1 34.15,375.19 Q35.83,372.84 37.00,370.00 Z" fill="#ff4650"/>
<path d="M56.00,370.00 Q57.17,372.84 58.85,375.19 A3.25,3.25 0 1 1 53.15,375.19 Q54.83,372.84 56.00,370.00 Z" fill="#ff4650"/>
<path d="M75.00,367.50 Q76.83,370.86 79.16,373.72 A5.00,5.00 0 1 1 70.84,373.72 Q73.17,370.86 75.00,367.50 Z" fill="#ff4650"/>
<path d="M94.00,367.50 Q95.83,370.86 98.16,373.72 A5.00,5.00 0 1 1 89.84,373.72 Q92.17,370.86 94.00,367.50 Z" fill="#ff4650"/>
<path d="M113.00,370.00 Q114.17,372.84 115.85,375.19 A3.25,3.25 0 1 1 110.15,375.19 Q111.83,372.84 113.00,370.00 Z" fill="#ff4650"/>
<circle cx="284" cy="375" r="6.5" fill="#fff" stroke="#f8d030" stroke-width="1.15"/>
<circle cx="303" cy="375" r="6.5" fill="#fff" stroke="#f8d030" stroke-width="1.15"/>
<circle cx="322" cy="375" r="6.5" fill="#fff" stroke="#f8d030" stroke-width="1.15"/>
<circle cx="341" cy="375" r="6.5" fill="#fff" stroke="#f8d030" stroke-width="1.15"/>
<circle cx="360" cy="375" r="6.5" fill="#fff" stroke="#f8d030" stroke-width="1.15"/>
<rect x="490.5" y="388" width="4" height="14" rx="2.0" fill="#8cbb16"/>
<rect x="509.5" y="388" width="4" height="14" rx="2.0" fill="#8cbb16"/>
<rect x="528.5" y="388" width="4" height="14" rx="2.0" fill="#8cbb16"/>
<rect x="544.0" y="388" width="4" height="14" rx="2.0" fill="#8cbb16"/>
<rect x="552.0" y="388" width="4" height="14" rx="2.0" fill="#d0e5a3"/>
<rect x="563.0" y="388" width="4" height="14" rx="2.0" fill="#8cbb16"/>
<rect x="571.0" y="388" width="4" height="14" rx="2.0" fill="#d0e5a3"/>
<rect x="582.0" y="388" width="4" height="14" rx="2.0" fill="#8cbb16"/>
<rect x="590.0" y="388" width="4" height="14" rx="2.0" fill="#8cbb16"/>
<rect x="620.0" y="388" width="4" height="14" rx="2.0" fill="#8cbb16"/>
<rect x="628.0" y="388" width="4" height="14" rx="2.0" fill="#8cbb16"/>
<path transform="translate(113,416.5) scale(1.0)" d="M0,-3 C-1,-5.8 -6.2,-6.2 -6.2,-1.5 C-6.2,1.5 -2.5,4 0,5.5 C2.5,4 6.2,1.5 6.2,-1.5 C6.2,-6.2 1,-5.8 0,-3 Z" fill="#ff4fae"/>
<path transform="translate(208,416.5) scale(1.0)" d="M0,-3 C-1,-5.8 -6.2,-6.2 -6.2,-1.5 C-6.2,1.5 -2.5,4 0,5.5 C2.5,4 6.2,1.5 6.2,-1.5 C6.2,-6.2 1,-5.8 0,-3 Z" fill="#ff4fae"/>
<path transform="translate(265,416.5) scale(1.0)" d="M0,-3 C-1,-5.8 -6.2,-6.2 -6.2,-1.5 C-6.2,1.5 -2.5,4 0,5.5 C2.5,4 6.2,1.5 6.2,-1.5 C6.2,-6.2 1,-5.8 0,-3 Z" fill="#ff4fae"/>
<path transform="translate(322,416.5) scale(1.0)" d="M0,-3 C-1,-5.8 -6.2,-6.2 -6.2,-1.5 C-6.2,1.5 -2.5,4 0,5.5 C2.5,4 6.2,1.5 6.2,-1.5 C6.2,-6.2 1,-5.8 0,-3 Z" fill="#ff4fae"/>
<path transform="translate(341,416.5) scale(1.0)" d="M0,-3 C-1,-5.8 -6.2,-6.2 -6.2,-1.5 C-6.2,1.5 -2.5,4 0,5.5 C2.5,4 6.2,1.5 6.2,-1.5 C6.2,-6.2 1,-5.8 0,-3 Z" fill="#ff4fae"/>
<path transform="translate(360,416.5) scale(1.0)" d="M0,-3 C-1,-5.8 -6.2,-6.2 -6.2,-1.5 C-6.2,1.5 -2.5,4 0,5.5 C2.5,4 6.2,1.5 6.2,-1.5 C6.2,-6.2 1,-5.8 0,-3 Z" fill="#ff4fae"/>
<path transform="translate(398,416.5) scale(1.0)" d="M0,-3 C-1,-5.8 -6.2,-6.2 -6.2,-1.5 C-6.2,1.5 -2.5,4 0,5.5 C2.5,4 6.2,1.5 6.2,-1.5 C6.2,-6.2 1,-5.8 0,-3 Z" fill="#ff4fae"/>
<path transform="translate(417,416.5) scale(1.0)" d="M0,-3 C-1,-5.8 -6.2,-6.2 -6.2,-1.5 C-6.2,1.5 -2.5,4 0,5.5 C2.5,4 6.2,1.5 6.2,-1.5 C6.2,-6.2 1,-5.8 0,-3 Z" fill="#ff4fae"/>
<circle cx="37" cy="437" r="7" fill="#c3c3c3"/><line x1="34.1" y1="440.2" x2="39.9" y2="433.8" stroke="#fff" stroke-width="1.8" stroke-linecap="round"/>
<circle cx="56" cy="437" r="7" fill="#c3c3c3"/><line x1="53.1" y1="440.2" x2="58.9" y2="433.8" stroke="#fff" stroke-width="1.8" stroke-linecap="round"/>
<circle cx="75" cy="437" r="7" fill="#c3c3c3"/><line x1="72.1" y1="440.2" x2="77.9" y2="433.8" stroke="#fff" stroke-width="1.8" stroke-linecap="round"/>
<circle cx="94" cy="437" r="7" fill="#c3c3c3"/><line x1="91.1" y1="440.2" x2="96.9" y2="433.8" stroke="#fff" stroke-width="1.8" stroke-linecap="round"/>
<circle cx="113" cy="437" r="7" fill="#c3c3c3"/><line x1="110.1" y1="440.2" x2="115.9" y2="433.8" stroke="#fff" stroke-width="1.8" stroke-linecap="round"/>
<circle cx="132" cy="437" r="7" fill="#c3c3c3"/><line x1="129.1" y1="440.2" x2="134.9" y2="433.8" stroke="#fff" stroke-width="1.8" stroke-linecap="round"/>
<circle cx="151" cy="437" r="7" fill="#c3c3c3"/><line x1="148.1" y1="440.2" x2="153.9" y2="433.8" stroke="#fff" stroke-width="1.8" stroke-linecap="round"/>
<circle cx="170" cy="437" r="7" fill="#c3c3c3"/><line x1="167.1" y1="440.2" x2="172.9" y2="433.8" stroke="#fff" stroke-width="1.8" stroke-linecap="round"/>
<circle cx="189" cy="437" r="7" fill="#c3c3c3"/><line x1="186.1" y1="440.2" x2="191.9" y2="433.8" stroke="#fff" stroke-width="1.8" stroke-linecap="round"/>
<circle cx="208" cy="437" r="7" fill="#c3c3c3"/><line x1="205.1" y1="440.2" x2="210.9" y2="433.8" stroke="#fff" stroke-width="1.8" stroke-linecap="round"/>
<circle cx="227" cy="437" r="7" fill="#c3c3c3"/><line x1="224.1" y1="440.2" x2="229.9" y2="433.8" stroke="#fff" stroke-width="1.8" stroke-linecap="round"/>
<circle cx="246" cy="437" r="7" fill="#c3c3c3"/><line x1="243.1" y1="440.2" x2="248.9" y2="433.8" stroke="#fff" stroke-width="1.8" stroke-linecap="round"/>
<circle cx="265" cy="437" r="7" fill="#c3c3c3"/><line x1="262.1" y1="440.2" x2="267.9" y2="433.8" stroke="#fff" stroke-width="1.8" stroke-linecap="round"/>
<circle cx="284" cy="437" r="7" fill="#c3c3c3"/><line x1="281.1" y1="440.2" x2="286.9" y2="433.8" stroke="#fff" stroke-width="1.8" stroke-linecap="round"/>
<circle cx="303" cy="437" r="7" fill="#c3c3c3"/><line x1="300.1" y1="440.2" x2="305.9" y2="433.8" stroke="#fff" stroke-width="1.8" stroke-linecap="round"/>
<circle cx="322" cy="437" r="7" fill="#c3c3c3"/><line x1="319.1" y1="440.2" x2="324.9" y2="433.8" stroke="#fff" stroke-width="1.8" stroke-linecap="round"/>
<circle cx="341" cy="437" r="7" fill="#c3c3c3"/><line x1="338.1" y1="440.2" x2="343.9" y2="433.8" stroke="#fff" stroke-width="1.8" stroke-linecap="round"/>
<circle cx="360" cy="437" r="7" fill="#c3c3c3"/><line x1="357.1" y1="440.2" x2="362.9" y2="433.8" stroke="#fff" stroke-width="1.8" stroke-linecap="round"/>
<circle cx="379" cy="437" r="7" fill="#c3c3c3"/><line x1="376.1" y1="440.2" x2="381.9" y2="433.8" stroke="#fff" stroke-width="1.8" stroke-linecap="round"/>
<circle cx="398" cy="437" r="7" fill="#c3c3c3"/><line x1="395.1" y1="440.2" x2="400.9" y2="433.8" stroke="#fff" stroke-width="1.8" stroke-linecap="round"/>
<circle cx="417" cy="437" r="7" fill="#c3c3c3"/><line x1="414.1" y1="440.2" x2="419.9" y2="433.8" stroke="#fff" stroke-width="1.8" stroke-linecap="round"/>
<circle cx="436" cy="437" r="7" fill="#c3c3c3"/><line x1="433.1" y1="440.2" x2="438.9" y2="433.8" stroke="#fff" stroke-width="1.8" stroke-linecap="round"/>
<circle cx="455" cy="437" r="7" fill="#c3c3c3"/><line x1="452.1" y1="440.2" x2="457.9" y2="433.8" stroke="#fff" stroke-width="1.8" stroke-linecap="round"/>
<circle cx="474" cy="437" r="7" fill="#c3c3c3"/><line x1="471.1" y1="440.2" x2="476.9" y2="433.8" stroke="#fff" stroke-width="1.8" stroke-linecap="round"/>
<circle cx="493" cy="437" r="7" fill="#c3c3c3"/><line x1="490.1" y1="440.2" x2="495.9" y2="433.8" stroke="#fff" stroke-width="1.8" stroke-linecap="round"/>
<circle cx="512" cy="437" r="7" fill="#c3c3c3"/><line x1="509.1" y1="440.2" x2="514.9" y2="433.8" stroke="#fff" stroke-width="1.8" stroke-linecap="round"/>
<circle cx="531" cy="437" r="7" fill="#c3c3c3"/><line x1="528.1" y1="440.2" x2="533.9" y2="433.8" stroke="#fff" stroke-width="1.8" stroke-linecap="round"/>
<circle cx="550" cy="437" r="7" fill="#c3c3c3"/><line x1="547.1" y1="440.2" x2="552.9" y2="433.8" stroke="#fff" stroke-width="1.8" stroke-linecap="round"/>
<circle cx="569" cy="437" r="7" fill="#c3c3c3"/><line x1="566.1" y1="440.2" x2="571.9" y2="433.8" stroke="#fff" stroke-width="1.8" stroke-linecap="round"/>
<circle cx="588" cy="437" r="7" fill="#c3c3c3"/><line x1="585.1" y1="440.2" x2="590.9" y2="433.8" stroke="#fff" stroke-width="1.8" stroke-linecap="round"/>
<circle cx="607" cy="437" r="7" fill="#c3c3c3"/><line x1="604.1" y1="440.2" x2="609.9" y2="433.8" stroke="#fff" stroke-width="1.8" stroke-linecap="round"/>
<circle cx="626" cy="437" r="7" fill="#c3c3c3"/><line x1="623.1" y1="440.2" x2="628.9" y2="433.8" stroke="#fff" stroke-width="1.8" stroke-linecap="round"/>
<path d="M165.5,452 C170,453 175,456 174.5,460.5 C174,464 168,465 166,461 C165.5,459.5 167.5,457.5 169.5,457.5 C169,455 167,453 165.5,452 Z" fill="#76c2f2"/>
<path d="M184.5,452 C189,453 194,456 193.5,460.5 C193,464 187,465 185,461 C184.5,459.5 186.5,457.5 188.5,457.5 C188,455 186,453 184.5,452 Z" fill="#76c2f2"/>
<path d="M208.00,452.30 Q209.35,454.10 211.20,455.39 A4.60,4.60 0 1 1 204.80,455.39 Q206.65,454.10 208.00,452.30 Z" fill="#fff" stroke="#76c2f2" stroke-width="1.1"/>
<path d="M222.5,452 C227,453 232,456 231.5,460.5 C231,464 225,465 223,461 C222.5,459.5 224.5,457.5 226.5,457.5 C226,455 224,453 222.5,452 Z" fill="#76c2f2"/>
<path d="M241.5,452 C246,453 251,456 250.5,460.5 C250,464 244,465 242,461 C241.5,459.5 243.5,457.5 245.5,457.5 C245,455 243,453 241.5,452 Z" fill="#76c2f2"/>
<path d="M265.00,450.55 Q266.77,453.58 269.04,456.11 A5.00,5.00 0 1 1 260.96,456.11 Q263.23,453.58 265.00,450.55 Z" fill="#76c2f2"/>
<path d="M284.00,450.55 Q285.77,453.58 288.04,456.11 A5.00,5.00 0 1 1 279.96,456.11 Q282.23,453.58 284.00,450.55 Z" fill="#76c2f2"/>
<path d="M298.5,452 C303,453 308,456 307.5,460.5 C307,464 301,465 299,461 C298.5,459.5 300.5,457.5 302.5,457.5 C302,455 300,453 298.5,452 Z" fill="#76c2f2"/>
<path d="M322.00,450.55 Q323.77,453.58 326.04,456.11 A5.00,5.00 0 1 1 317.96,456.11 Q320.23,453.58 322.00,450.55 Z" fill="#76c2f2"/>
<path d="M341,451.5 C344.75,451.5 346,455.53 346,458.94 C346,462.34999999999997 344.0,463.9 341,463.9 C338.0,463.9 336,462.34999999999997 336,458.94 C336,455.53 337.25,451.5 341,451.5 Z" fill="#76c2f2"/>
<path d="M360.00,450.55 Q361.77,453.58 364.04,456.11 A5.00,5.00 0 1 1 355.96,456.11 Q358.23,453.58 360.00,450.55 Z" fill="#76c2f2"/>
<path d="M379.00,450.55 Q380.77,453.58 383.04,456.11 A5.00,5.00 0 1 1 374.96,456.11 Q377.23,453.58 379.00,450.55 Z" fill="#76c2f2"/>
<path d="M398.00,450.55 Q399.77,453.58 402.04,456.11 A5.00,5.00 0 1 1 393.96,456.11 Q396.23,453.58 398.00,450.55 Z" fill="#76c2f2"/>
<path d="M417.00,452.30 Q418.35,454.10 420.20,455.39 A4.60,4.60 0 1 1 413.80,455.39 Q415.65,454.10 417.00,452.30 Z" fill="#fff" stroke="#76c2f2" stroke-width="1.1"/>
<path d="M450.5,452 C455,453 460,456 459.5,460.5 C459,464 453,465 451,461 C450.5,459.5 452.5,457.5 454.5,457.5 C454,455 452,453 450.5,452 Z" fill="#76c2f2"/>
<path d="M602.5,452 C607,453 612,456 611.5,460.5 C611,464 605,465 603,461 C602.5,459.5 604.5,457.5 606.5,457.5 C606,455 604,453 602.5,452 Z" fill="#76c2f2"/>
<rect x="617" y="468" width="18" height="19" fill="#93d7f2"/>
<path d="M624,487 L626,484.8 L628,487 Z" fill="#fff"/>
<text x="37" y="482" text-anchor="middle" font-family="Liberation Sans, sans-serif" font-size="10" fill="#555555">22</text>
<text x="56" y="482" text-anchor="middle" font-family="Liberation Sans, sans-serif" font-size="10" fill="#555555">23</text>
<text x="75" y="482" text-anchor="middle" font-family="Liberation Sans, sans-serif" font-size="10" fill="#555555">24</text>
<text x="94" y="482" text-anchor="middle" font-family="Liberation Sans, sans-serif" font-size="10" fill="#555555">25</text>
<text x="113" y="482" text-anchor="middle" font-family="Liberation Sans, sans-serif" font-size="10" fill="#555555">26</text>
<text x="132" y="482" text-anchor="middle" font-family="Liberation Sans, sans-serif" font-size="10" fill="#f72558">27</text>
<text x="151" y="482" text-anchor="middle" font-family="Liberation Sans, sans-serif" font-size="10" fill="#f72558">28</text>
<text x="170" y="482" text-anchor="middle" font-family="Liberation Sans, sans-serif" font-size="10" fill="#555555">29</text>
<text x="189" y="482" text-anchor="middle" font-family="Liberation Sans, sans-serif" font-size="10" fill="#555555">30</text>
<text x="208" y="482" text-anchor="middle" font-family="Liberation Sans, sans-serif" font-size="10" fill="#555555">01</text>
<text x="227" y="482" text-anchor="middle" font-family="Liberation Sans, sans-serif" font-size="10" fill="#555555">02</text>
<text x="246" y="482" text-anchor="middle" font-family="Liberation Sans, sans-serif" font-size="10" fill="#555555">03</text>
<text x="265" y="482" text-anchor="middle" font-family="Liberation Sans, sans-serif" font-size="10" fill="#f72558">04</text>
<text x="284" y="482" text-anchor="middle" font-family="Liberation Sans, sans-serif" font-size="10" fill="#f72558">05</text>
<text x="303" y="482" text-anchor="middle" font-family="Liberation Sans, sans-serif" font-size="10" fill="#555555">06</text>
<text x="322" y="482" text-anchor="middle" font-family="Liberation Sans, sans-serif" font-size="10" fill="#555555">07</text>
<text x="341" y="482" text-anchor="middle" font-family="Liberation Sans, sans-serif" font-size="10" fill="#555555">08</text>
<text x="360" y="482" text-anchor="middle" font-family="Liberation Sans, sans-serif" font-size="10" fill="#555555">09</text>
<text x="379" y="482" text-anchor="middle" font-family="Liberation Sans, sans-serif" font-size="10" fill="#555555">10</text>
<text x="398" y="482" text-anchor="middle" font-family="Liberation Sans, sans-serif" font-size="10" fill="#f72558">11</text>
<text x="417" y="482" text-anchor="middle" font-family="Liberation Sans, sans-serif" font-size="10" fill="#f72558">12</text>
<text x="436" y="482" text-anchor="middle" font-family="Liberation Sans, sans-serif" font-size="10" fill="#555555">13</text>
<text x="455" y="482" text-anchor="middle" font-family="Liberation Sans, sans-serif" font-size="10" fill="#555555">14</text>
<text x="474" y="482" text-anchor="middle" font-family="Liberation Sans, sans-serif" font-size="10" fill="#555555">15</text>
<text x="493" y="482" text-anchor="middle" font-family="Liberation Sans, sans-serif" font-size="10" fill="#555555">16</text>
<text x="512" y="482" text-anchor="middle" font-family="Liberation Sans, sans-serif" font-size="10" fill="#555555">17</text>
<text x="531" y="482" text-anchor="middle" font-family="Liberation Sans, sans-serif" font-size="10" fill="#f72558">18</text>
<text x="550" y="482" text-anchor="middle" font-family="Liberation Sans, sans-serif" font-size="10" fill="#f72558">19</text>
<text x="569" y="482" text-anchor="middle" font-family="Liberation Sans, sans-serif" font-size="10" fill="#555555">20</text>
<text x="588" y="482" text-anchor="middle" font-family="Liberation Sans, sans-serif" font-size="10" fill="#555555">21</text>
<text x="607" y="482" text-anchor="middle" font-family="Liberation Sans, sans-serif" font-size="10" fill="#555555">22</text>
<text x="625" y="481" text-anchor="middle" font-family="Liberation Sans, sans-serif" font-size="10" fill="#555555">23</text>
<rect x="198" y="470" width="1" height="29" fill="#444"/>
<text x="28" y="498" font-family="Liberation Sans, sans-serif" font-size="12" fill="#555555" textLength="37.5" lengthAdjust="spacingAndGlyphs">Апрель</text>
<text x="203" y="498" font-family="Liberation Sans, sans-serif" font-size="12" fill="#555555" textLength="21" lengthAdjust="spacingAndGlyphs">Май</text>
<rect x="26" y="499" width="591" height="1" fill="#e6e6e6"/>
<text x="31" y="531" font-family="Liberation Sans, sans-serif" font-size="12" stroke="#333333" stroke-width="0.6" fill="#333333" textLength="70" lengthAdjust="spacingAndGlyphs">Менструация</text>
<path d="M38.50,539.00 Q40.20,541.69 42.40,543.88 A5.00,5.00 0 1 1 34.60,543.88 Q36.80,541.69 38.50,539.00 Z" fill="#ff4650"/>
<text x="51" y="550.5" font-family="Liberation Sans, sans-serif" font-size="11.2" fill="#333333" textLength="63.5" lengthAdjust="spacingAndGlyphs">Менструация</text>
<path d="M38.50,562.00 Q39.67,564.84 41.35,567.19 A3.25,3.25 0 1 1 35.65,567.19 Q37.33,564.84 38.50,562.00 Z" fill="#ff4650"/>
<text x="51" y="571" font-family="Liberation Sans, sans-serif" font-size="11.2" fill="#333333" textLength="110.5" lengthAdjust="spacingAndGlyphs">Небольшие выделения</text>
<text x="185" y="531" font-family="Liberation Sans, sans-serif" font-size="12" stroke="#333333" stroke-width="0.6" fill="#333333" textLength="92" lengthAdjust="spacingAndGlyphs">Тест на овуляцию</text>
<circle cx="192" cy="546.2" r="7.2" fill="#fcd84c"/>
<text x="205" y="550.5" font-family="Liberation Sans, sans-serif" font-size="11.2" fill="#333333" textLength="78.5" lengthAdjust="spacingAndGlyphs">Положительный</text>
<circle cx="192" cy="566" r="6.5" fill="#fff" stroke="#f8d030" stroke-width="1.2"/>
<text x="205" y="571" font-family="Liberation Sans, sans-serif" font-size="11.2" fill="#333333" textLength="75" lengthAdjust="spacingAndGlyphs">Отрицательный</text>
<text x="315" y="531" font-family="Liberation Sans, sans-serif" font-size="12" stroke="#333333" stroke-width="0.6" fill="#333333" textLength="114" lengthAdjust="spacingAndGlyphs">Тест на беременность</text>
<rect x="316.95000000000005" y="539.2" width="3.3" height="12.5" rx="1.65" fill="#8cbb16"/>
<rect x="324.95000000000005" y="539.2" width="3.3" height="12.5" rx="1.65" fill="#8cbb16"/>
<text x="335" y="550.5" font-family="Liberation Sans, sans-serif" font-size="11.2" fill="#333333" textLength="78.5" lengthAdjust="spacingAndGlyphs">Положительный</text>
<rect x="320.95000000000005" y="560.2" width="3.3" height="12" rx="1.65" fill="#8cbb16"/>
<text x="335" y="571" font-family="Liberation Sans, sans-serif" font-size="11.2" fill="#333333" textLength="75.5" lengthAdjust="spacingAndGlyphs">Отрицательный</text>
<rect x="316.95000000000005" y="580.6" width="3.3" height="12" rx="1.65" fill="#8cbb16"/>
<rect x="324.95000000000005" y="580.6" width="3.3" height="12" rx="1.65" fill="#d0e5a3"/>
<text x="335" y="591" font-family="Liberation Sans, sans-serif" font-size="11.2" fill="#333333" textLength="105.5" lengthAdjust="spacingAndGlyphs">Слабоположительный</text>
<text x="471" y="531" font-family="Liberation Sans, sans-serif" font-size="12" stroke="#333333" stroke-width="0.6" fill="#333333" textLength="129.5" lengthAdjust="spacingAndGlyphs">Цервикальная жидкость</text>
<path d="M479.50,542.95 Q480.80,544.81 482.60,546.17 A4.30,4.30 0 1 1 476.40,546.17 Q478.20,544.81 479.50,542.95 Z" fill="#fff" stroke="#76c2f2" stroke-width="1.1"/>
<text x="492" y="552" font-family="Liberation Sans, sans-serif" font-size="11.2" fill="#333333" textLength="23.5" lengthAdjust="spacingAndGlyphs">Сухо</text>
<path d="M475.8,564.2 L483.2,564.2 C482.9,565.8000000000001 480.35,566.6 480.35,567.8000000000001 L480.35,571.1999999999999 C480.35,572.4 482.9,573.1999999999999 483.2,574.8 L475.8,574.8 C476.1,573.1999999999999 478.65,572.4 478.65,571.1999999999999 L478.65,567.8000000000001 C478.65,566.6 476.1,565.8000000000001 475.8,564.2 Z" fill="#76c2f2"/>
<text x="492" y="573" font-family="Liberation Sans, sans-serif" font-size="11.2" fill="#333333" textLength="40.5" lengthAdjust="spacingAndGlyphs">Клейкая</text>
<path d="M475.0,583.5 C479.5,584.5 484.5,587.5 484.0,592.0 C483.5,595.5 477.5,596.5 475.5,592.5 C475.0,591.0 477.0,589.0 479.0,589.0 C478.5,586.5 476.5,584.5 475.0,583.5 Z" fill="#76c2f2"/>
<text x="492" y="593" font-family="Liberation Sans, sans-serif" font-size="11.2" fill="#333333" textLength="76.5" lengthAdjust="spacingAndGlyphs">Кремообразная</text>
<path d="M479.50,601.35 Q481.13,604.02 483.25,606.19 A4.75,4.75 0 1 1 475.75,606.19 Q477.87,604.02 479.50,601.35 Z" fill="#76c2f2"/>
<text x="492" y="613" font-family="Liberation Sans, sans-serif" font-size="11.2" fill="#333333" textLength="56.5" lengthAdjust="spacingAndGlyphs">Водянистая</text>
<path d="M479.5,621.6 C483.025,621.6 484.2,625.5 484.2,628.8000000000001 C484.2,632.1 482.32,633.6 479.5,633.6 C476.68,633.6 474.8,632.1 474.8,628.8000000000001 C474.8,625.5 475.975,621.6 479.5,621.6 Z" fill="#76c2f2"/>
<text x="492" y="633" font-family="Liberation Sans, sans-serif" font-size="11.2" fill="#333333" textLength="69" lengthAdjust="spacingAndGlyphs">Яичный белок</text>
<path transform="translate(37.6,628.9) scale(1.14)" d="M0,-3 C-1,-5.8 -6.2,-6.2 -6.2,-1.5 C-6.2,1.5 -2.5,4 0,5.5 C2.5,4 6.2,1.5 6.2,-1.5 C6.2,-6.2 1,-5.8 0,-3 Z" fill="#ff4fae"/>
<text x="51" y="632.5" font-family="Liberation Sans, sans-serif" font-size="11.2" fill="#333333" textLength="60" lengthAdjust="spacingAndGlyphs">Половой акт</text>
<circle cx="139" cy="629" r="7" fill="#c3c3c3"/><line x1="136.1" y1="632.2" x2="141.9" y2="625.8" stroke="#fff" stroke-width="1.8" stroke-linecap="round"/>
<text x="151" y="632.5" font-family="Liberation Sans, sans-serif" font-size="11.2" fill="#333333" textLength="77.5" lengthAdjust="spacingAndGlyphs">Прием лекарств</text>
<path d="M258,622 A7,7 0 1 0 266,631 A6.44,6.44 0 0 1 258,622 Z" fill="#f59a1c"/>
<text x="270" y="632.5" font-family="Liberation Sans, sans-serif" font-size="11.2" fill="#333333" textLength="92.5" lengthAdjust="spacingAndGlyphs">Лунный календарь</text>
</svg>
</body></html>
